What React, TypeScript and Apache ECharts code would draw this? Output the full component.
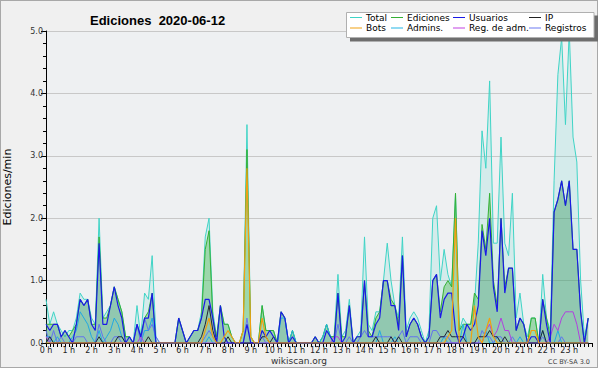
import React, { useEffect, useRef } from "react";
import * as echarts from "echarts";

// 10-minute bins, 144 per day (values in edits per minute)
const total = [
  0.7, 0.3, 0.5, 0.3, 0.2, 0.1,
  0.2, 0.2, 0.4, 0.8, 0.7, 0.7,
  0.4, 0.3, 2.0, 0.4, 0.5, 0.6,
  0.9, 0.7, 0.5, 0.1, 0.1, 0.0,
  0.6, 0.1, 0.8, 0.7, 1.4, 0.1,
  0.0, 0.0, 0.0, 0.0, 0.0, 0.4,
  0.2, 0.0, 0.1, 0.2, 0.2, 0.5,
  1.7, 2.0, 0.5, 0.1, 0.6, 0.3,
  0.3, 0.1, 0.0, 0.0, 0.2, 3.5,
  0.1, 0.0, 0.0, 0.6, 0.2, 0.2,
  0.2, 0.0, 0.5, 0.4, 0.0, 0.2,
  0.0, 0.0, 0.0, 0.0, 0.0, 0.1,
  0.0, 0.1, 0.3, 0.1, 0.1, 1.1,
  0.1, 0.2, 0.7, 0.0, 0.1, 0.2,
  1.7, 0.3, 0.2, 0.5, 0.5, 1.0,
  1.6, 1.0, 0.6, 0.4, 1.7, 0.2,
  0.4, 0.5, 0.4, 0.2, 0.0, 0.2,
  2.0, 2.2, 1.0, 1.5, 1.1, 0.9,
  2.4, 0.2, 0.4, 0.3, 0.3, 0.6,
  1.6, 3.4, 2.8, 4.2, 1.6, 1.6,
  3.3, 1.6, 1.4, 2.4, 0.4, 0.8,
  0.3, 0.1, 0.4, 0.4, 0.0, 1.1,
  0.4, 0.2, 2.6, 4.3, 4.9, 3.5,
  5.0, 3.3, 2.9, 1.0, 0.1, 0.4,
];

const ediciones = [
  0.3, 0.3, 0.3, 0.3, 0.1, 0.2,
  0.1, 0.2, 0.3, 0.7, 0.6, 0.7,
  0.3, 0.3, 1.7, 0.4, 0.4, 0.6,
  0.9, 0.7, 0.5, 0.1, 0.1, 0.0,
  0.3, 0.1, 0.4, 0.5, 0.8, 0.0,
  0.0, 0.0, 0.0, 0.0, 0.0, 0.4,
  0.2, 0.0, 0.1, 0.2, 0.2, 0.4,
  1.5, 1.8, 0.4, 0.1, 0.6, 0.3,
  0.3, 0.1, 0.0, 0.0, 0.2, 3.1,
  0.1, 0.0, 0.0, 0.6, 0.2, 0.2,
  0.2, 0.0, 0.5, 0.4, 0.0, 0.2,
  0.0, 0.0, 0.0, 0.0, 0.0, 0.1,
  0.0, 0.1, 0.3, 0.1, 0.1, 0.8,
  0.1, 0.1, 0.6, 0.0, 0.1, 0.1,
  1.0, 0.2, 0.1, 0.4, 0.5, 1.0,
  1.0, 0.7, 0.6, 0.3, 1.4, 0.1,
  0.3, 0.4, 0.3, 0.1, 0.0, 0.1,
  1.0, 1.1, 0.5, 0.9, 1.0, 0.9,
  2.4, 0.2, 0.3, 0.3, 0.3, 0.8,
  0.7, 1.9, 1.5, 2.4, 1.0, 0.6,
  2.0, 0.9, 1.2, 1.2, 0.2, 0.4,
  0.3, 0.0, 0.4, 0.4, 0.0, 0.7,
  0.4, 0.1, 2.1, 2.3, 2.6, 2.2,
  2.6, 1.5, 1.5, 0.5, 0.0, 0.4,
];

const usuarios = [
  0.3, 0.2, 0.3, 0.3, 0.1, 0.2,
  0.1, 0.0, 0.3, 0.7, 0.6, 0.7,
  0.3, 0.2, 1.6, 0.3, 0.3, 0.6,
  0.9, 0.6, 0.4, 0.0, 0.1, 0.0,
  0.3, 0.1, 0.4, 0.4, 0.8, 0.0,
  0.0, 0.0, 0.0, 0.0, 0.0, 0.4,
  0.2, 0.0, 0.1, 0.2, 0.2, 0.4,
  0.7, 0.7, 0.4, 0.0, 0.6, 0.1,
  0.0, 0.0, 0.0, 0.0, 0.0, 0.3,
  0.0, 0.0, 0.0, 0.2, 0.1, 0.2,
  0.1, 0.0, 0.5, 0.4, 0.0, 0.1,
  0.0, 0.0, 0.0, 0.0, 0.0, 0.1,
  0.0, 0.0, 0.2, 0.1, 0.0, 0.8,
  0.0, 0.1, 0.6, 0.0, 0.1, 0.1,
  1.0, 0.1, 0.1, 0.3, 0.4, 1.0,
  1.0, 0.6, 0.6, 0.2, 1.4, 0.1,
  0.3, 0.4, 0.3, 0.1, 0.0, 0.1,
  1.0, 1.1, 0.4, 0.7, 0.8, 0.8,
  0.2, 0.0, 0.1, 0.3, 0.2, 0.3,
  0.6, 1.8, 1.4, 2.0, 0.9, 0.5,
  2.0, 0.8, 1.2, 1.2, 0.2, 0.4,
  0.3, 0.0, 0.1, 0.1, 0.0, 0.7,
  0.3, 0.0, 2.1, 2.3, 2.6, 2.2,
  2.6, 1.5, 1.5, 0.5, 0.0, 0.4,
];

const ip = [
  0, 0.1, 0, 0, 0, 0,
  0, 0, 0, 0, 0, 0,
  0, 0, 0.1, 0, 0, 0,
  0, 0.1, 0.1, 0, 0, 0,
  0, 0, 0, 0.1, 0, 0,
  0, 0, 0, 0, 0, 0,
  0, 0, 0, 0, 0, 0.1,
  0.3, 0.6, 0.2, 0, 0, 0,
  0.1, 0, 0, 0, 0, 0,
  0, 0, 0, 0.1, 0.1, 0,
  0.1, 0, 0, 0, 0, 0,
  0, 0, 0, 0, 0, 0,
  0, 0, 0, 0, 0, 0,
  0, 0, 0, 0, 0, 0,
  0, 0, 0, 0.1, 0, 0,
  0, 0.1, 0, 0.1, 0, 0,
  0, 0, 0, 0, 0, 0,
  0, 0, 0.1, 0.1, 0.2, 0.1,
  0.1, 0.1, 0.1, 0, 0, 0,
  0.1, 0.1, 0.1, 0.2, 0.1, 0.1,
  0, 0.1, 0, 0, 0, 0,
  0, 0, 0, 0, 0, 0.2,
  0, 0, 0, 0, 0, 0,
  0, 0, 0, 0, 0, 0,
];

const bots = [
  0, 0, 0, 0, 0, 0,
  0, 0, 0, 0, 0, 0,
  0, 0, 0, 0, 0, 0,
  0, 0, 0, 0, 0, 0,
  0, 0, 0, 0, 0, 0,
  0, 0, 0, 0, 0, 0,
  0, 0, 0, 0, 0, 0,
  0.2, 0.4, 0.1, 0, 0, 0.1,
  0.2, 0.1, 0, 0, 0.2, 2.8,
  0.1, 0, 0, 0.4, 0.1, 0,
  0, 0, 0, 0, 0, 0,
  0, 0, 0, 0, 0, 0,
  0, 0, 0, 0, 0, 0,
  0, 0, 0, 0, 0, 0,
  0, 0, 0, 0, 0, 0,
  0, 0, 0, 0, 0, 0,
  0, 0, 0, 0, 0, 0,
  0, 0, 0, 0, 0.1, 0.2,
  2.0, 0, 0, 0, 0, 0.6,
  0.1, 0, 0.2, 0.4, 0.1, 0,
  0, 0, 0, 0, 0, 0,
  0, 0, 0.2, 0.2, 0, 0,
  0, 0, 0, 0, 0, 0,
  0, 0, 0, 0, 0, 0,
];

const admins = [
  0.1, 0.1, 0, 0.1, 0, 0,
  0, 0.1, 0.2, 0.5, 0.4, 0.3,
  0.1, 0, 0.2, 0, 0.1, 0.2,
  0.4, 0.3, 0.1, 0, 0, 0,
  0, 0, 0.2, 0.2, 0.4, 0,
  0, 0, 0, 0, 0, 0,
  0, 0, 0, 0, 0, 0,
  0, 0.1, 0, 0, 0, 0,
  0, 0, 0, 0, 0, 0,
  0, 0, 0, 0, 0, 0,
  0, 0, 0.4, 0.4, 0, 0.2,
  0, 0, 0, 0, 0, 0,
  0, 0.1, 0.3, 0.1, 0, 0,
  0, 0, 0, 0, 0, 0,
  0, 0, 0, 0, 0.2, 0,
  0, 0, 0.1, 0, 0, 0,
  0, 0, 0, 0, 0, 0,
  0, 0, 0, 0.1, 0, 0,
  0, 0, 0.3, 0, 0, 0,
  0, 0, 0.2, 0, 0, 0.1,
  0, 0, 0, 0, 0, 0.1,
  0, 0, 0, 0, 0, 0.2,
  0, 0, 0, 0.2, 0, 0,
  0, 0, 0, 0, 0, 0,
];

const regAdm = [
  0.1, 0, 0, 0, 0, 0,
  0, 0, 0, 0, 0, 0,
  0, 0, 0, 0, 0, 0,
  0, 0, 0, 0, 0, 0,
  0, 0.1, 0, 0, 0, 0,
  0, 0, 0, 0, 0, 0,
  0, 0, 0, 0, 0, 0,
  0, 0, 0, 0, 0, 0,
  0, 0, 0, 0, 0, 0,
  0, 0, 0, 0, 0, 0,
  0, 0, 0, 0, 0, 0,
  0, 0, 0, 0, 0, 0,
  0, 0, 0, 0, 0.1, 0.1,
  0, 0, 0, 0, 0, 0,
  0, 0, 0, 0, 0, 0,
  0, 0, 0, 0, 0, 0,
  0, 0, 0, 0, 0, 0,
  0, 0, 0, 0, 0, 0,
  0, 0, 0, 0, 0, 0,
  0, 0, 0.2, 0.3, 0.1, 0.2,
  0.4, 0.2, 0.2, 0, 0, 0,
  0, 0, 0, 0, 0, 0,
  0, 0.1, 0.3, 0.2, 0.4, 0.5,
  0.5, 0.5, 0.3, 0, 0, 0,
];

const registros = [
  0.2, 0, 0.2, 0, 0.1, 0,
  0, 0, 0.1, 0.1, 0.1, 0,
  0, 0, 0.3, 0.1, 0, 0,
  0.1, 0.1, 0, 0, 0, 0,
  0.3, 0, 0.4, 0.2, 0.3, 0.1,
  0, 0, 0, 0, 0, 0,
  0, 0, 0, 0, 0, 0,
  0.1, 0.2, 0.1, 0, 0, 0,
  0, 0, 0, 0, 0, 0.4,
  0, 0, 0, 0.1, 0, 0,
  0, 0, 0, 0, 0, 0,
  0, 0, 0, 0, 0, 0,
  0, 0, 0, 0, 0, 0.3,
  0, 0, 0.1, 0, 0, 0.1,
  0.2, 0.1, 0.1, 0.1, 0.1, 0.1,
  0.1, 0.1, 0, 0.1, 0.2, 0,
  0.1, 0.1, 0.1, 0, 0, 0,
  0.2, 0.2, 0.1, 0.1, 0.1, 0,
  0, 0, 0, 0, 0, 0,
  0, 0.2, 0.1, 0.1, 0, 0.1,
  0.1, 0, 0, 0.1, 0, 0,
  0, 0, 0, 0, 0, 0.1,
  0, 0, 0, 0, 0.1, 0,
  0, 0, 0, 0, 0, 0,
];

const binsPerHour = 6;
const hourCount = 24;
const yTicks = [0, 1, 2, 3, 4, 5];

const legendLayout = [
  { name: "Total", left: 350, top: 13 },
  { name: "Ediciones", left: 391, top: 13 },
  { name: "Usuarios", left: 453, top: 13 },
  { name: "IP", left: 529, top: 13 },
  { name: "Bots", left: 350, top: 23.5 },
  { name: "Admins.", left: 391, top: 23.5 },
  { name: "Reg. de adm.", left: 453, top: 23.5 },
  { name: "Registros", left: 529, top: 23.5 },
];

const pts = (arr: number[]) => arr.map((v, i) => [i, v]);

const FONT = "DejaVu Sans";

export default function App() {
  const ref = useRef<HTMLDivElement>(null);
  useEffect(() => {
    if (!ref.current) return;
    const chart = echarts.init(ref.current, undefined, { renderer: "svg" });
    const line = (name: string, data: number[], color: string, width: number, z: number, area?: string) => ({
      name,
      type: "line",
      data: pts(data),
      symbol: "none",
      showSymbol: false,
      color,
      lineStyle: { color, width },
      itemStyle: { color },
      areaStyle: area ? { color: area, opacity: 1 } : undefined,
      z,
      silent: true,
    });
    chart.setOption({
      animation: false,
      backgroundColor: "transparent",
      title: {
        text: "Ediciones  2020-06-12",
        left: 85,
        top: 9,
        textStyle: { fontSize: 13, fontWeight: "bold", fontFamily: "Liberation Sans", color: "#000" },
      },
      legend: legendLayout.map((l) => ({
        data: [l.name],
        left: l.left,
        top: l.top,
        icon: "rect",
        itemWidth: 12,
        itemHeight: 1,
        itemGap: 0,
        padding: 0,
        selectedMode: false,
        z: 20,
        textStyle: { fontSize: 9, fontFamily: FONT, color: "#000", padding: [0, 0, 0, -1] },
      })),
      grid: {
        left: 46,
        right: 8,
        top: 31,
        bottom: 27,
        show: true,
        backgroundColor: "#eef0f2",
        borderWidth: 0,
        containLabel: false,
        outerBoundsMode: "none",
      },
      xAxis: {
        type: "value",
        min: 0,
        max: binsPerHour * hourCount,
        interval: binsPerHour,
        axisLine: { show: true, lineStyle: { color: "#000", width: 1 } },
        axisTick: { show: true, length: 4, lineStyle: { color: "#000" } },
        minorTick: { show: true, splitNumber: binsPerHour, length: 4, lineStyle: { color: "#000" } },
        splitLine: { show: false },
        axisLabel: {
          fontSize: 8,
          fontFamily: FONT,
          color: "#222",
          margin: 3,
          showMaxLabel: false,
          formatter: (v: number) => (v < binsPerHour * hourCount ? `${v / binsPerHour} h` : ""),
        },
      },
      yAxis: {
        type: "value",
        min: yTicks[0],
        max: yTicks[yTicks.length - 1],
        interval: 1,
        name: "Ediciones/min",
        nameLocation: "middle",
        nameRotate: 90,
        nameGap: 33,
        nameTextStyle: { fontSize: 11, fontFamily: FONT, color: "#000" },
        axisLine: { show: true, lineStyle: { color: "#000", width: 1 } },
        axisTick: { show: true, length: 5, lineStyle: { color: "#000" } },
        minorTick: { show: true, splitNumber: 5, length: 3, lineStyle: { color: "#000" } },
        splitLine: { show: true, lineStyle: { color: "#c8c8c8", width: 1 } },
        axisLabel: {
          fontSize: 8,
          fontFamily: FONT,
          color: "#333",
          margin: 3,
          formatter: (v: number) => v.toFixed(1),
        },
      },
      series: [
        line("Total", total, "#3fd4c6", 1, 2, "rgba(64,208,192,0.15)"),
        line("Ediciones", ediciones, "#34b034", 1, 3, "rgba(60,180,60,0.36)"),
        line("Admins.", admins, "#22b4e4", 1, 4),
        line("Registros", registros, "#6a78f0", 1, 4),
        line("Reg. de adm.", regAdm, "#c040e0", 1, 4),
        line("IP", ip, "#222222", 1, 5),
        line("Usuarios", usuarios, "#1a1ae6", 1.2, 6, "rgba(40,70,220,0.1)"),
        line("Bots", bots, "#f0a010", 1.2, 7),
      ],
      graphic: [
        { type: "rect", z: 10, shape: { x: 350, y: 15.5, width: 248, height: 26 }, style: { fill: "#6e6e6e" } },
        {
          type: "rect",
          z: 11,
          shape: { x: 346.5, y: 12.5, width: 247.5, height: 25 },
          style: { fill: "#ffffff", stroke: "#b0b0b0", lineWidth: 1 },
        },
        {
          type: "text",
          z: 11,
          x: 299,
          y: 361,
          style: { text: "wikiscan.org", fontSize: 9, fontFamily: FONT, fill: "#333", align: "center", verticalAlign: "middle" },
        },
        {
          type: "text",
          z: 11,
          x: 590,
          y: 362,
          style: { text: "CC BY-SA 3.0", fontSize: 6.5, fontFamily: FONT, fill: "#444", align: "right", verticalAlign: "middle" },
        },
      ],
    });
    return () => chart.dispose();
  }, []);

  return (
    <div style={{ position: "fixed", left: 0, top: 0, width: 600, height: 370, background: "#fff" }}>
      <div
        style={{
          position: "absolute",
          left: 0,
          top: 0,
          width: 596,
          height: 366,
          background: "#f0f0f0",
          border: "1px solid #a8a8a8",
        }}
      />
      <div ref={ref} style={{ position: "absolute", left: 0, top: 0, width: 600, height: 370 }} />
    </div>
  );
}
